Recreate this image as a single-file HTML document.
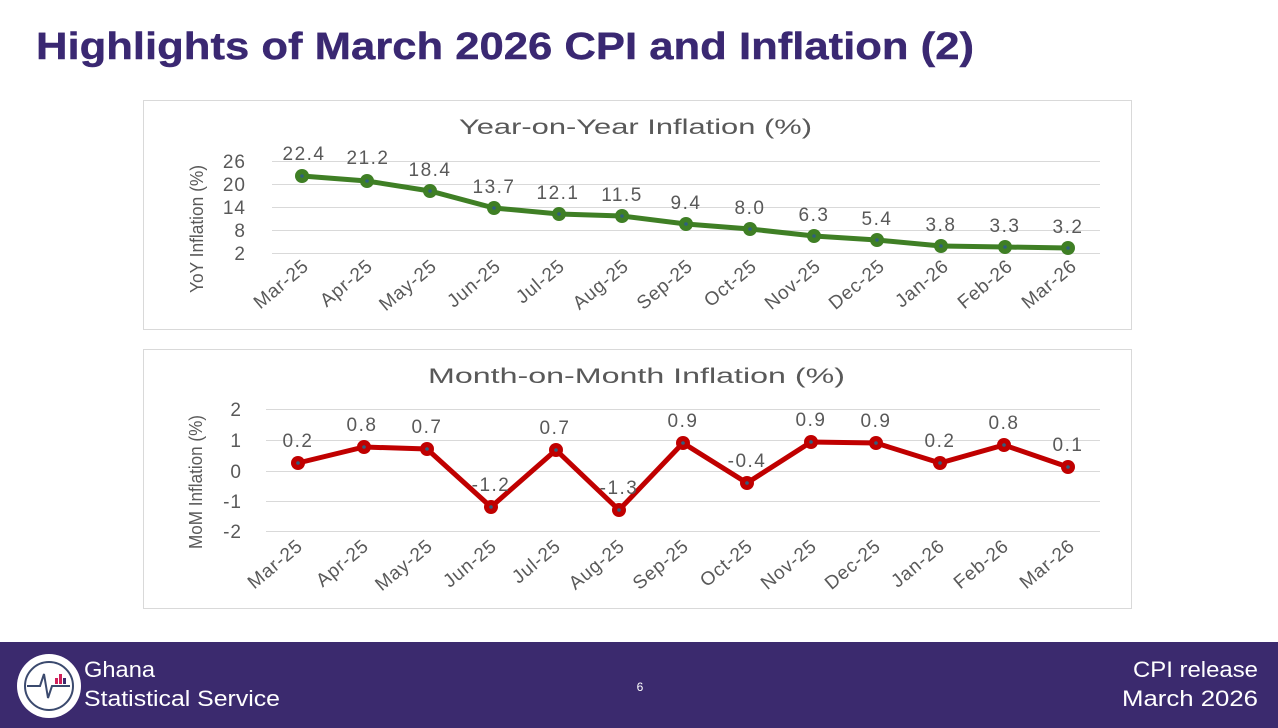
<!DOCTYPE html>
<html><head><meta charset="utf-8"><style>
html,body{margin:0;padding:0;width:1278px;height:728px;overflow:hidden;background:#fff;font-family:"Liberation Sans",sans-serif}
</style></head><body>
<svg width="1278" height="728" xmlns="http://www.w3.org/2000/svg" font-family="Liberation Sans, sans-serif">
<text x="36" y="59" font-size="38" font-weight="bold" fill="#3a2872" stroke="#3a2872" stroke-width="0.4" textLength="938" lengthAdjust="spacingAndGlyphs">Highlights of March 2026 CPI and Inflation (2)</text>

<rect x="143.5" y="100.5" width="988" height="229" fill="#fff" stroke="#d9d9d9"/>
<text x="459" y="134" font-size="21" fill="#595959" textLength="353" lengthAdjust="spacingAndGlyphs">Year-on-Year Inflation (%)</text>
<g stroke="#d9d9d9" stroke-width="1">
<line x1="272" y1="161.5" x2="1100" y2="161.5"/><line x1="272" y1="184.5" x2="1100" y2="184.5"/>
<line x1="272" y1="207.5" x2="1100" y2="207.5"/><line x1="272" y1="230.5" x2="1100" y2="230.5"/>
<line x1="272" y1="253.5" x2="1100" y2="253.5"/>
</g>
<g font-size="19" fill="#595959" text-anchor="end" letter-spacing="1">
<text x="246" y="168">26</text><text x="246" y="191">20</text><text x="246" y="214">14</text><text x="246" y="237">8</text><text x="246" y="260">2</text>
</g>
<text transform="translate(203,293) rotate(-90)" font-size="18" fill="#595959" textLength="128" lengthAdjust="spacingAndGlyphs">YoY Inflation (%)</text>
<polyline fill="none" stroke="#3f7f25" stroke-width="5" points="302,176 367,181 430,191 494,208 559,214 622,216 686,224 750,229 814,236 877,240 941,246 1005,247 1068,248"/>
<g fill="#3f7f25">
<circle cx="302" cy="176" r="7"/><circle cx="367" cy="181" r="7"/><circle cx="430" cy="191" r="7"/><circle cx="494" cy="208" r="7"/><circle cx="559" cy="214" r="7"/><circle cx="622" cy="216" r="7"/><circle cx="686" cy="224" r="7"/><circle cx="750" cy="229" r="7"/><circle cx="814" cy="236" r="7"/><circle cx="877" cy="240" r="7"/><circle cx="941" cy="246" r="7"/><circle cx="1005" cy="247" r="7"/><circle cx="1068" cy="248" r="7"/>
</g>
<g fill="#2f5f7f">
<circle cx="302" cy="176" r="1.8"/><circle cx="367" cy="181" r="1.8"/><circle cx="430" cy="191" r="1.8"/><circle cx="494" cy="208" r="1.8"/><circle cx="559" cy="214" r="1.8"/><circle cx="622" cy="216" r="1.8"/><circle cx="686" cy="224" r="1.8"/><circle cx="750" cy="229" r="1.8"/><circle cx="814" cy="236" r="1.8"/><circle cx="877" cy="240" r="1.8"/><circle cx="941" cy="246" r="1.8"/><circle cx="1005" cy="247" r="1.8"/><circle cx="1068" cy="248" r="1.8"/>
</g>
<g font-size="19" fill="#595959" text-anchor="middle" letter-spacing="1.5">
<text x="304" y="160">22.4</text><text x="368" y="164">21.2</text><text x="430" y="176">18.4</text><text x="494" y="193">13.7</text><text x="558" y="199">12.1</text><text x="622" y="201">11.5</text><text x="686" y="209">9.4</text><text x="750" y="214">8.0</text><text x="814" y="221">6.3</text><text x="877" y="225">5.4</text><text x="941" y="231">3.8</text><text x="1005" y="232">3.3</text><text x="1068" y="233">3.2</text>
</g>
<g font-size="19" fill="#595959" text-anchor="end" letter-spacing="0.8">
<text transform="translate(310,268) rotate(-40)">Mar-25</text><text transform="translate(374,268) rotate(-40)">Apr-25</text><text transform="translate(438,268) rotate(-40)">May-25</text><text transform="translate(502,268) rotate(-40)">Jun-25</text><text transform="translate(566,268) rotate(-40)">Jul-25</text><text transform="translate(630,268) rotate(-40)">Aug-25</text><text transform="translate(694,268) rotate(-40)">Sep-25</text><text transform="translate(758,268) rotate(-40)">Oct-25</text><text transform="translate(822,268) rotate(-40)">Nov-25</text><text transform="translate(886,268) rotate(-40)">Dec-25</text><text transform="translate(950,268) rotate(-40)">Jan-26</text><text transform="translate(1014,268) rotate(-40)">Feb-26</text><text transform="translate(1078,268) rotate(-40)">Mar-26</text>
</g>

<rect x="143.5" y="349.5" width="988" height="259" fill="#fff" stroke="#d9d9d9"/>
<text x="428" y="383" font-size="21" fill="#595959" textLength="417" lengthAdjust="spacingAndGlyphs">Month-on-Month Inflation (%)</text>
<g stroke="#d9d9d9" stroke-width="1">
<line x1="266" y1="409.5" x2="1100" y2="409.5"/><line x1="266" y1="440.5" x2="1100" y2="440.5"/>
<line x1="266" y1="471.5" x2="1100" y2="471.5"/><line x1="266" y1="501.5" x2="1100" y2="501.5"/>
<line x1="266" y1="531.5" x2="1100" y2="531.5"/>
</g>
<g font-size="19" fill="#595959" text-anchor="end" letter-spacing="1">
<text x="242" y="416">2</text><text x="242" y="447">1</text><text x="242" y="478">0</text><text x="242" y="508">-1</text><text x="242" y="538">-2</text>
</g>
<text transform="translate(202,549) rotate(-90)" font-size="18" fill="#595959" textLength="134" lengthAdjust="spacingAndGlyphs">MoM Inflation (%)</text>
<polyline fill="none" stroke="#c00000" stroke-width="5" points="298,463 364,447 427,449 491,507 556,450 619,510 683,443 747,483 811,442 876,443 940,463 1004,445 1068,467"/>
<g fill="#c00000">
<circle cx="298" cy="463" r="7"/><circle cx="364" cy="447" r="7"/><circle cx="427" cy="449" r="7"/><circle cx="491" cy="507" r="7"/><circle cx="556" cy="450" r="7"/><circle cx="619" cy="510" r="7"/><circle cx="683" cy="443" r="7"/><circle cx="747" cy="483" r="7"/><circle cx="811" cy="442" r="7"/><circle cx="876" cy="443" r="7"/><circle cx="940" cy="463" r="7"/><circle cx="1004" cy="445" r="7"/><circle cx="1068" cy="467" r="7"/>
</g>
<g fill="#2f5f7f">
<circle cx="298" cy="463" r="1.8"/><circle cx="364" cy="447" r="1.8"/><circle cx="427" cy="449" r="1.8"/><circle cx="491" cy="507" r="1.8"/><circle cx="556" cy="450" r="1.8"/><circle cx="619" cy="510" r="1.8"/><circle cx="683" cy="443" r="1.8"/><circle cx="747" cy="483" r="1.8"/><circle cx="811" cy="442" r="1.8"/><circle cx="876" cy="443" r="1.8"/><circle cx="940" cy="463" r="1.8"/><circle cx="1004" cy="445" r="1.8"/><circle cx="1068" cy="467" r="1.8"/>
</g>
<g font-size="19" fill="#595959" text-anchor="middle" letter-spacing="1.5">
<text x="298" y="447">0.2</text><text x="362" y="431">0.8</text><text x="427" y="433">0.7</text><text x="491" y="491">-1.2</text><text x="555" y="434">0.7</text><text x="619" y="494">-1.3</text><text x="683" y="427">0.9</text><text x="747" y="467">-0.4</text><text x="811" y="426">0.9</text><text x="876" y="427">0.9</text><text x="940" y="447">0.2</text><text x="1004" y="429">0.8</text><text x="1068" y="451">0.1</text>
</g>
<g font-size="19" fill="#595959" text-anchor="end" letter-spacing="0.8">
<text transform="translate(304,548) rotate(-40)">Mar-25</text><text transform="translate(370,548) rotate(-40)">Apr-25</text><text transform="translate(434,548) rotate(-40)">May-25</text><text transform="translate(498,548) rotate(-40)">Jun-25</text><text transform="translate(562,548) rotate(-40)">Jul-25</text><text transform="translate(626,548) rotate(-40)">Aug-25</text><text transform="translate(690,548) rotate(-40)">Sep-25</text><text transform="translate(754,548) rotate(-40)">Oct-25</text><text transform="translate(818,548) rotate(-40)">Nov-25</text><text transform="translate(882,548) rotate(-40)">Dec-25</text><text transform="translate(946,548) rotate(-40)">Jan-26</text><text transform="translate(1010,548) rotate(-40)">Feb-26</text><text transform="translate(1076,548) rotate(-40)">Mar-26</text>
</g>

<rect x="0" y="642" width="1278" height="86" fill="#3b2a6e"/>
<circle cx="49" cy="686" r="32" fill="#fff"/>
<circle cx="49" cy="686" r="24" fill="none" stroke="#3b4a6e" stroke-width="2"/>
<polyline points="27,686 40,686 44,674 48,698 52,686 70,686" fill="none" stroke="#3b4a6e" stroke-width="2"/>
<rect x="55" y="678" width="3" height="6" fill="#d0205a"/><rect x="59" y="674" width="3" height="10" fill="#d0205a"/><rect x="63" y="678" width="3" height="6" fill="#3b2a6e"/>
<text x="84" y="677" font-size="22" fill="#fff" textLength="71" lengthAdjust="spacingAndGlyphs">Ghana</text>
<text x="84" y="706" font-size="22" fill="#fff" textLength="196" lengthAdjust="spacingAndGlyphs">Statistical Service</text>
<text x="640" y="691" font-size="12" fill="#fff" text-anchor="middle">6</text>
<text x="1133" y="677" font-size="22" fill="#fff" textLength="125" lengthAdjust="spacingAndGlyphs">CPI release</text>
<text x="1122" y="706" font-size="22" fill="#fff" textLength="136" lengthAdjust="spacingAndGlyphs">March  2026</text>
</svg>
</body></html>
